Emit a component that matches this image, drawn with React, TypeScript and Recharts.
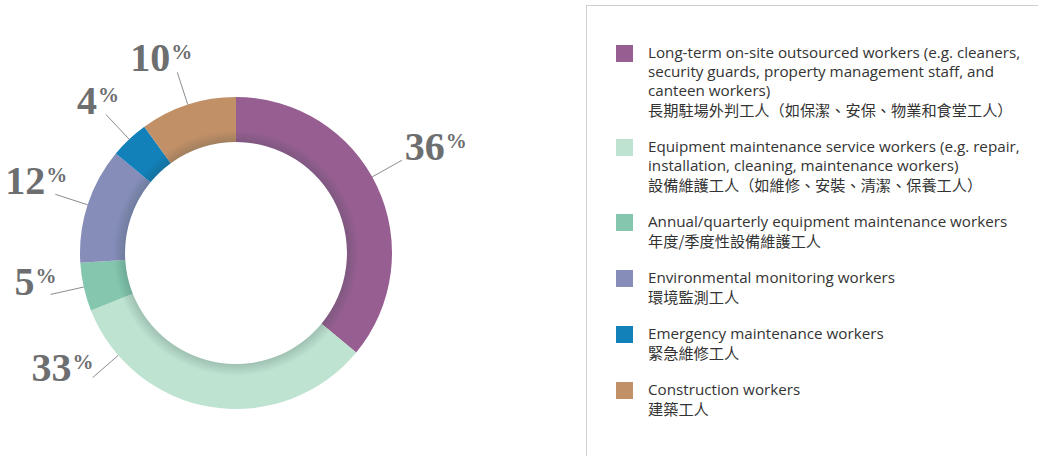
import React from 'react';
import { PieChart, Pie, Cell } from 'recharts';

const categoriesEn = [
    'Long-term on-site outsourced workers (e.g. cleaners, security guards, property management staff, and canteen workers)',
    'Equipment maintenance service workers (e.g. repair, installation, cleaning, maintenance workers)',
    'Annual/quarterly equipment maintenance workers',
    'Environmental monitoring workers',
    'Emergency maintenance workers',
    'Construction workers',
];

const categoriesZh = [
    '長期駐場外判工人（如保潔、安保、物業和食堂工人）',
    '設備維護工人（如維修、安裝、清潔、保養工人）',
    '年度/季度性設備維護工人',
    '環境監測工人',
    '緊急維修工人',
    '建築工人',
];

const shares = [36, 33, 5, 12, 4, 10];

const colors = ['#975f91', '#bfe3d1', '#84c7ae', '#858db8', '#1280b9', '#c29067'];

// label layout: leader line angle nudge (deg), text offset from the line end (px)
const labelShift = [4, -40, 0, 0, 0, 0];
const labelDx = [3, 1, 6, 12, 13, 15];
const labelDy = [0, 3, 1, 0, 0, -1];

const data = shares.map((value, i) => ({
    name: categoriesEn[i],
    value,
}));

// one full ring for the soft shade along the inner edge
const shadeRing = [{ name: 'shade', value: 1 }];

const RAD = Math.PI / 180;
const labelGray = '#6d6e70';
const CX = 236;
const CY = 253;
const INNER = 111;
const OUTER = 156;

const renderLabel = (props: any) => {
    const { cx, cy, midAngle, outerRadius, index, value } = props;
    const angle = midAngle + labelShift[index];
    const cos = Math.cos(-angle * RAD);
    const sin = Math.sin(-angle * RAD);
    const sx = cx + outerRadius * cos;
    const sy = cy + outerRadius * sin;
    const ex = cx + (outerRadius + 34) * cos;
    const ey = cy + (outerRadius + 34) * sin;
    const right = cos >= 0;
    return (
        <g key={`label-${index}`}>
            <line x1={sx} y1={sy} x2={ex} y2={ey} stroke="#6d6e70" strokeWidth={0.8} />
            <text
                x={ex + labelDx[index]}
                y={ey + labelDy[index]}
                textAnchor={right ? 'start' : 'end'}
                fill={labelGray}
                fontFamily="'Liberation Serif', 'DejaVu Serif', serif"
                fontWeight="bold"
                fontSize={40}
            >
                {value}
                <tspan fontSize={21} dy={-12} dx={1}>%</tspan>
            </text>
        </g>
    );
};

export default function App() {
    return (
        <div
            style={{
                position: 'fixed',
                left: 0,
                top: 0,
                width: 1038,
                height: 456,
                overflow: 'hidden',
                background: '#ffffff',
            }}
        >
            <div style={{ position: 'absolute', left: 0, top: 0 }}>
                <PieChart width={500} height={456} margin={{ top: 0, right: 0, bottom: 0, left: 0 }}>
                    <defs>
                        <radialGradient id="innerShade" gradientUnits="userSpaceOnUse" cx={CX} cy={CY} r={INNER + 12}>
                            <stop offset={INNER / (INNER + 12)} stopColor="#1d3b3b" stopOpacity={0.2} />
                            <stop offset={1} stopColor="#1d3b3b" stopOpacity={0} />
                        </radialGradient>
                    </defs>
                    <Pie
                        data={data}
                        dataKey="value"
                        nameKey="name"
                        cx={CX}
                        cy={CY}
                        innerRadius={INNER}
                        outerRadius={OUTER}
                        startAngle={90}
                        endAngle={-270}
                        stroke="none"
                        label={renderLabel}
                        labelLine={false}
                        isAnimationActive={false}
                    >
                        {data.map((_, i) => (
                            <Cell key={`cell-${i}`} fill={colors[i]} />
                        ))}
                    </Pie>
                    <Pie
                        data={shadeRing}
                        dataKey="value"
                        cx={CX}
                        cy={CY}
                        innerRadius={INNER}
                        outerRadius={INNER + 12}
                        startAngle={90}
                        endAngle={-270}
                        stroke="none"
                        fill="url(#innerShade)"
                        isAnimationActive={false}
                    />
                </PieChart>
            </div>
            <div
                style={{
                    position: 'absolute',
                    left: 586,
                    top: 5,
                    width: 480,
                    height: 480,
                    borderLeft: '1.5px solid #cfcfcf',
                    borderTop: '1.5px solid #cfcfcf',
                    boxSizing: 'border-box',
                }}
            >
                <div style={{ position: 'absolute', left: 29, top: 37, width: 410 }}>
                    {categoriesEn.map((en, i) => (
                        <div
                            key={en}
                            style={{
                                display: 'flex',
                                alignItems: 'flex-start',
                                marginBottom: 18,
                                fontFamily: "'Open Sans', 'Noto Sans CJK TC', sans-serif",
                                fontSize: 15.2,
                                lineHeight: '19px',
                                color: '#333333',
                            }}
                        >
                            <div
                                style={{
                                    width: 17,
                                    height: 17,
                                    marginTop: 2,
                                    background: colors[i],
                                    flexShrink: 0,
                                    marginRight: 15,
                                }}
                            />
                            <div>
                                <div>{en}</div>
                                <div
                                    style={{
                                        fontFamily: "'Noto Sans CJK TC', sans-serif",
                                        fontSize: 15.2,
                                    }}
                                >
                                    {categoriesZh[i]}
                                </div>
                            </div>
                        </div>
                    ))}
                </div>
            </div>
        </div>
    );
}
